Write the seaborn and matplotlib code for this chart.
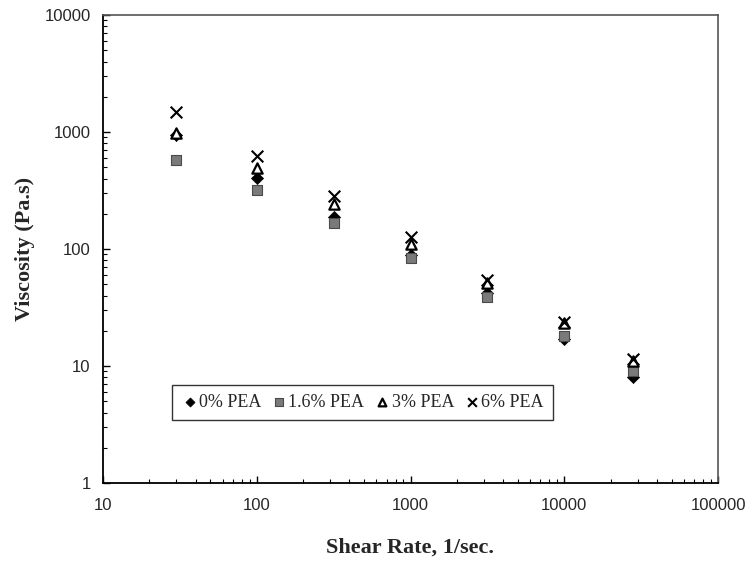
import numpy as np
import pandas as pd
import seaborn as sns
import matplotlib.pyplot as plt
from matplotlib.ticker import LogLocator, FixedLocator, FixedFormatter, NullFormatter

# shear rate (1/sec) and viscosity (Pa.s)
shear_rate = [30, 100, 316, 1000, 3162, 10000, 28000]
visc_0 = [940, 405, 189, 88, 42, 17, 8.1]
visc_1_6 = [580, 319, 168, 83, 39, 18, 9.0]
visc_3 = [990, 495, 243, 110, 51, 23.4, 11.0]
visc_6 = [1480, 627, 284, 127, 54, 23.6, 11.5]
series_names = ["0% PEA", "1.6% PEA", "3% PEA", "6% PEA"]

df = pd.DataFrame({
	"shear": shear_rate * 4,
	"visc": visc_0 + visc_1_6 + visc_3 + visc_6,
	"series": np.repeat(series_names, len(shear_rate)),
})

sns.set_style("white")
plt.rcParams['font.family'] = ['Liberation Sans', 'DejaVu Sans']

fig = plt.figure(figsize=(7.45, 5.69), dpi=100)
ax = fig.add_axes([103 / 745, 86 / 569, 615 / 745, 468 / 569])

styles = {
	"0% PEA": dict(marker="D", s=38, color="black", edgecolor="black", linewidth=0.5),
	"1.6% PEA": dict(marker="s", s=55, color="#7a7a7a", edgecolor="#4a4a4a", linewidth=0.8),
	"3% PEA": dict(marker="^", s=55, color="white", edgecolor="black", linewidth=1.6),
	"6% PEA": dict(marker="x", s=70, color="black", linewidth=1.5),
}
for name in series_names:
	sub = df[df["series"] == name]
	sns.scatterplot(data=sub, x="shear", y="visc", ax=ax, label=name, zorder=3, **styles[name])

ax.set_xscale("log")
ax.set_yscale("log")
ax.set_xlim(10, 100000)
ax.set_ylim(1, 10000)

xt = [10, 100, 1000, 10000, 100000]
yt = [1, 10, 100, 1000, 10000]
ax.xaxis.set_major_locator(FixedLocator(xt))
ax.xaxis.set_major_formatter(FixedFormatter([str(v) for v in xt]))
ax.yaxis.set_major_locator(FixedLocator(yt))
ax.yaxis.set_major_formatter(FixedFormatter([str(v) for v in yt]))
ax.xaxis.set_minor_locator(LogLocator(base=10, subs=np.arange(2, 10)))
ax.yaxis.set_minor_locator(LogLocator(base=10, subs=np.arange(2, 10)))
ax.xaxis.set_minor_formatter(NullFormatter())
ax.yaxis.set_minor_formatter(NullFormatter())

ax.tick_params(which="major", direction="in", length=5, width=1, labelsize=12, color="black",
	bottom=True, left=True, top=False, right=False, pad=11)
ax.tick_params(which="minor", direction="in", length=3, width=0.8, color="black",
	bottom=True, left=True, top=False, right=False)
ax.tick_params(axis="y", pad=9)

for side in ["left", "bottom"]:
	ax.spines[side].set_color("black")
	ax.spines[side].set_linewidth(1.3)
for side in ["top", "right"]:
	ax.spines[side].set_color("#555555")
	ax.spines[side].set_linewidth(1.2)
	ax.spines[side].set_linestyle((0, (1, 1)))

ax.set_xlabel("Shear Rate, 1/sec.", fontsize=16, fontweight="bold", family="Liberation Serif")
ax.set_ylabel("Viscosity (Pa.s)", fontsize=16, fontweight="bold", family="Liberation Serif")
ax.xaxis.set_label_coords(0.5, -0.139)
ax.xaxis.label.set_va("center")
ax.yaxis.set_label_coords(-0.127, 0.5)
ax.yaxis.label.set_va("center")

leg = ax.legend(loc="lower left", bbox_to_anchor=(0.112, 0.135), borderaxespad=0, ncol=4, frameon=True,
	fancybox=False, edgecolor="black", handletextpad=0.0, columnspacing=0.5, handlelength=1.0,
	borderpad=0.5, prop={"family": "Liberation Serif", "size": 13}, markerscale=0.75)
leg.get_frame().set_linewidth(1.0)

plt.savefig("out.png", dpi=100)
